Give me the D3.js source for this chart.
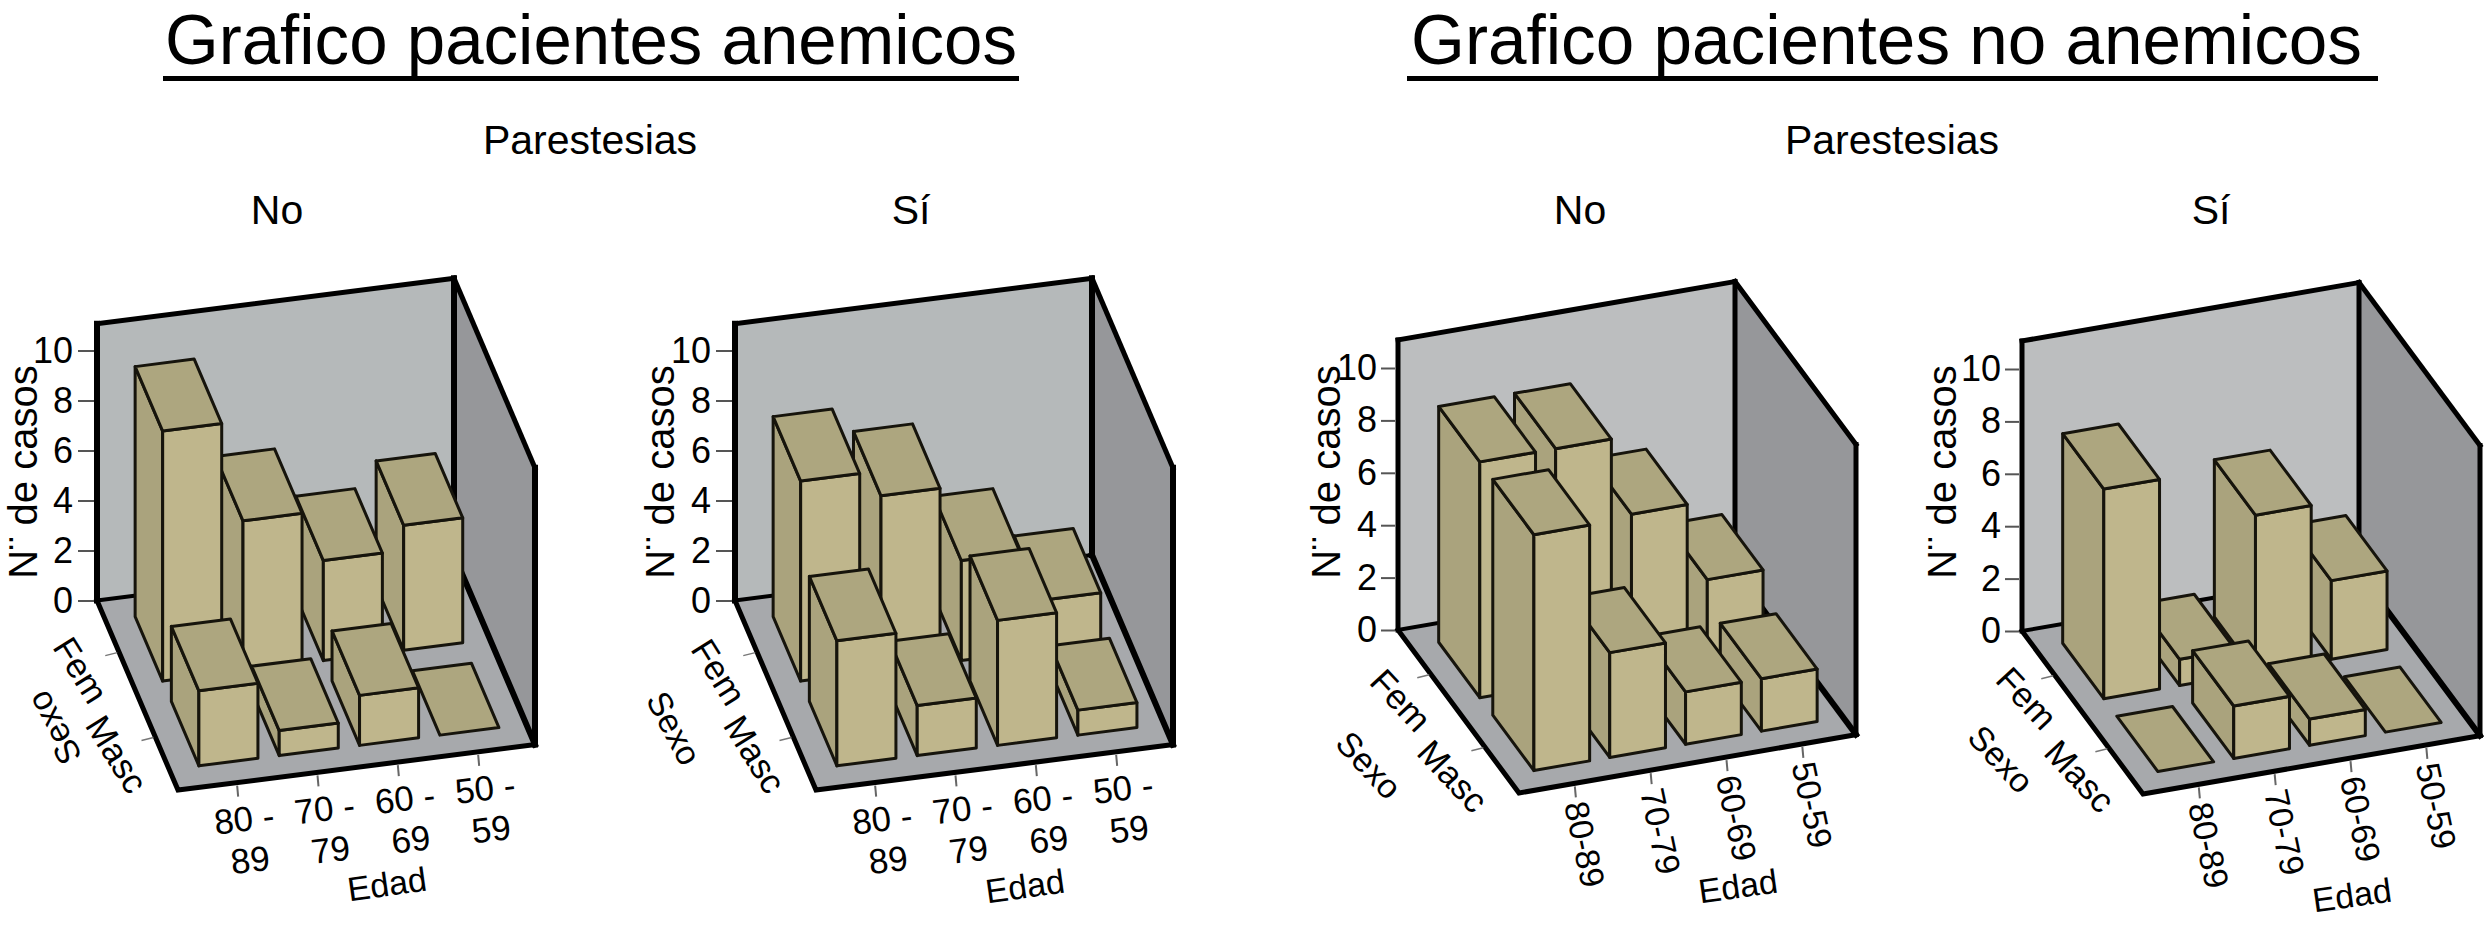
<!DOCTYPE html>
<html><head><meta charset="utf-8">
<script src="https://cdn.jsdelivr.net/npm/d3@7"></script>
<style>html,body{margin:0;background:#fff}text{font-family:"Liberation Sans",Arial,sans-serif;fill:#000}</style>
</head><body><div id="chart"></div>
<script>
// ---- data ----
const ageGroups = ["80-89","70-79","60-69","50-59"];
const sexGroups = ["Fem","Masc"];
const yTicks = [0,2,4,6,8,10];
const anemicNoFem  = [10,6,4,5];
const anemicNoMasc = [3,1,2,0];
const anemicYesFem  = [8,7,4,2];
const anemicYesMasc = [5,2,5,1];
const nonAnemicNoFem  = [9,9,6,3];
const nonAnemicNoMasc = [9,4,2,2];
const nonAnemicYesFem  = [8,1,6,3];
const nonAnemicYesMasc = [0,2,1,0];
const titleLeft = "Grafico pacientes anemicos";
const titleRight = "Grafico pacientes no anemicos";
const facetTitle = "Parestesias";
const valueAxisLabel = "N¨ de casos";

// ---- layout ----
const W=2485,H=926;
const svg=d3.select("#chart").append("svg").attr("width",W).attr("height",H).style("display","block");
const col={bar:"#bfb68c",top:"#ada67f",side:"#aaa37d",right:"#96979a",floor:"#a7a9ac"};
const geomA={X:[357,-45.5],Z:[81,189.6],unit:25,wall:"#b5b9ba",vw:6,ew:5,tick:16,pad:5};
const geomB={X:[337,-58.4],Z:[121,163],unit:26.2,wall:"#bcbebf",vw:5,ew:5,tick:14,pad:4};
const panels=[
 {g:geomA,O:[97,600.5],fem:anemicNoFem,masc:anemicNoMasc,head:"No",headX:277,nLab:[23,472],
  femL:[81,670,58],mascL:[117,754,58],sexoL:[54,728,242],edadL:[387,884,-8],twoLine:true},
 {g:geomA,O:[735,600.5],fem:anemicYesFem,masc:anemicYesMasc,head:"Sí",headX:911,nLab:[660,472],
  femL:[719,672,58],mascL:[755,754,58],sexoL:[674,728,62],edadL:[1025,886,-8],twoLine:true},
 {g:geomB,O:[1398,630],fem:nonAnemicNoFem,masc:nonAnemicNoMasc,head:"No",headX:1580,nLab:[1326,472],
  femL:[1401,700,47],mascL:[1453,776,47],sexoL:[1369,765,47],edadL:[1738,886,-8],twoLine:false},
 {g:geomB,O:[2022,631],fem:nonAnemicYesFem,masc:nonAnemicYesMasc,head:"Sí",headX:2211,nLab:[1942,472],
  femL:[2027,698,47],mascL:[2080,776,47],sexoL:[2001,759,47],edadL:[2352,895,-8],twoLine:false}
];

function label(s,t,x,y,size,rot=0,anchor="middle"){
  return s.append("text").attr("transform",`translate(${x},${y}) rotate(${rot})`)
    .attr("text-anchor",anchor).attr("dominant-baseline","central")
    .attr("font-size",size).text(t);
}
function head(t,x0,x1,tx0,tx1){
  svg.append("text").attr("x",tx0).attr("y",64).attr("font-size",71)
    .attr("textLength",tx1-tx0).attr("lengthAdjust","spacingAndGlyphs").text(t);
  svg.append("line").attr("x1",x0).attr("x2",x1).attr("y1",78.5).attr("y2",78.5)
    .attr("stroke","#000").attr("stroke-width",5);
}
head(titleLeft,163,1019,165,1017);
head(titleRight,1407,2378,1411,2362);
svg.append("text").attr("x",590).attr("y",154).attr("text-anchor","middle").attr("font-size",41).text(facetTitle);
svg.append("text").attr("x",1892).attr("y",154).attr("text-anchor","middle").attr("font-size",41).text(facetTitle);

const line=d3.line();
panels.forEach(p=>{
  const g=svg.append("g"),G=p.g,[ox,oy]=p.O;
  svg.append("text").attr("x",p.headX).attr("y",224).attr("text-anchor","middle").attr("font-size",41).text(p.head);

  const yS=d3.scaleLinear().domain([0,10]).range([oy,oy-10*G.unit]);
  const ageS=d3.scaleBand().domain(ageGroups).range([0.083,0.9235]).paddingInner(0.265);
  const sexS=d3.scaleBand().domain(sexGroups).range([0.105,0.892]).paddingInner(0.24);
  const pr=(a,b,v)=>[ox+a*G.X[0]+b*G.Z[0], oy+a*G.X[1]+b*G.Z[1]-(oy-yS(v))];
  const wallTop=11.07;
  const poly=(pts,fill)=>g.append("path").attr("d",line(pts)+"Z").attr("fill",fill).attr("stroke","none");
  const edge=(pts,w)=>g.append("path").attr("d",line(pts)).attr("fill","none").attr("stroke","#000")
     .attr("stroke-width",w).attr("stroke-linecap","square").attr("stroke-linejoin","miter");

  // walls and floor
  poly([pr(0,0,0),pr(1,0,0),pr(1,0,wallTop),pr(0,0,wallTop)],G.wall);
  poly([pr(1,0,0),pr(1,1,0),pr(1,1,wallTop),pr(1,0,wallTop)],col.right);
  poly([pr(0,0,0),pr(1,0,0),pr(1,1,0),pr(0,1,0)],col.floor);
  edge([pr(0,0,0),pr(1,0,0)],4);
  edge([pr(1,0,0),pr(1,1,0)],G.ew+1);
  edge([pr(0,0,0),pr(0,1,0),pr(1,1,0)],G.ew);
  edge([pr(0,0,0),pr(0,0,wallTop)],G.vw);
  edge([pr(0,0,wallTop),pr(1,0,wallTop)],G.ew);
  edge([pr(1,0,0),pr(1,0,wallTop)],G.vw);
  edge([pr(1,0,wallTop),pr(1,1,wallTop)],G.ew);
  edge([pr(1,1,wallTop),pr(1,1,0)],G.vw);

  // bars, back to front
  const bars=[];
  sexGroups.forEach((s,si)=>{
    const vals=si===0?p.fem:p.masc;
    [...ageGroups].reverse().forEach(a=>bars.push({a,s,v:vals[ageGroups.indexOf(a)]}));
  });
  g.selectAll("g.bar").data(bars).join("g").attr("class","bar").each(function(d){
    const a0=ageS(d.a),a1=a0+ageS.bandwidth(),b0=sexS(d.s),b1=b0+sexS.bandwidth();
    const b=d3.select(this);
    const face=(pts,fill)=>b.append("path").attr("d",line(pts)+"Z").attr("fill",fill)
      .attr("stroke","#16140c").attr("stroke-width",3).attr("stroke-linejoin","round");
    if(d.v>0){
      face([pr(a0,b0,0),pr(a0,b1,0),pr(a0,b1,d.v),pr(a0,b0,d.v)],col.side);
      face([pr(a0,b1,0),pr(a1,b1,0),pr(a1,b1,d.v),pr(a0,b1,d.v)],col.bar);
    }
    face([pr(a0,b0,d.v),pr(a1,b0,d.v),pr(a1,b1,d.v),pr(a0,b1,d.v)],col.top);
  });

  // value axis
  const ax=g.append("g").attr("transform",`translate(${ox-3},0)`)
    .call(d3.axisLeft(yS).tickValues(yTicks).tickSize(G.tick).tickPadding(G.pad).tickFormat(d3.format("d")));
  ax.select(".domain").remove();
  ax.selectAll("line").attr("stroke","#555").attr("stroke-width",2);
  ax.selectAll("text").attr("font-size",36).attr("font-family",'"Liberation Sans"').attr("fill","#000");

  label(g,valueAxisLabel,p.nLab[0],p.nLab[1],40,-90);

  // sex axis
  sexGroups.forEach(s=>{
    const c=pr(0,sexS(s)+sexS.bandwidth()/2,0);
    g.append("line").attr("x1",c[0]-2).attr("y1",c[1]).attr("x2",c[0]-14).attr("y2",c[1]+3)
      .attr("stroke","#777").attr("stroke-width",1.5);
  });
  label(g,"Fem",p.femL[0],p.femL[1],35,p.femL[2]);
  label(g,"Masc",p.mascL[0],p.mascL[1],35,p.mascL[2]);
  label(g,"Sexo",p.sexoL[0],p.sexoL[1],34,p.sexoL[2]);
  label(g,"Edad",p.edadL[0],p.edadL[1],34,p.edadL[2]);

  // age axis
  ageGroups.forEach(a=>{
    const c=pr(ageS(a)+ageS.bandwidth()/2,1,0);
    g.append("line").attr("x1",c[0]).attr("y1",c[1]+3).attr("x2",c[0]+1).attr("y2",c[1]+14)
      .attr("stroke","#666").attr("stroke-width",2);
    if(p.twoLine){
      const [lo,hi]=a.split("-");
      label(g,lo+" -",c[0]+7,c[1]+36,35,-7);
      label(g,hi,c[0]+13,c[1]+77,35,-7);
    } else {
      label(g,a,c[0]+10,c[1]+61,34,78);
    }
  });
});
</script></body></html>
